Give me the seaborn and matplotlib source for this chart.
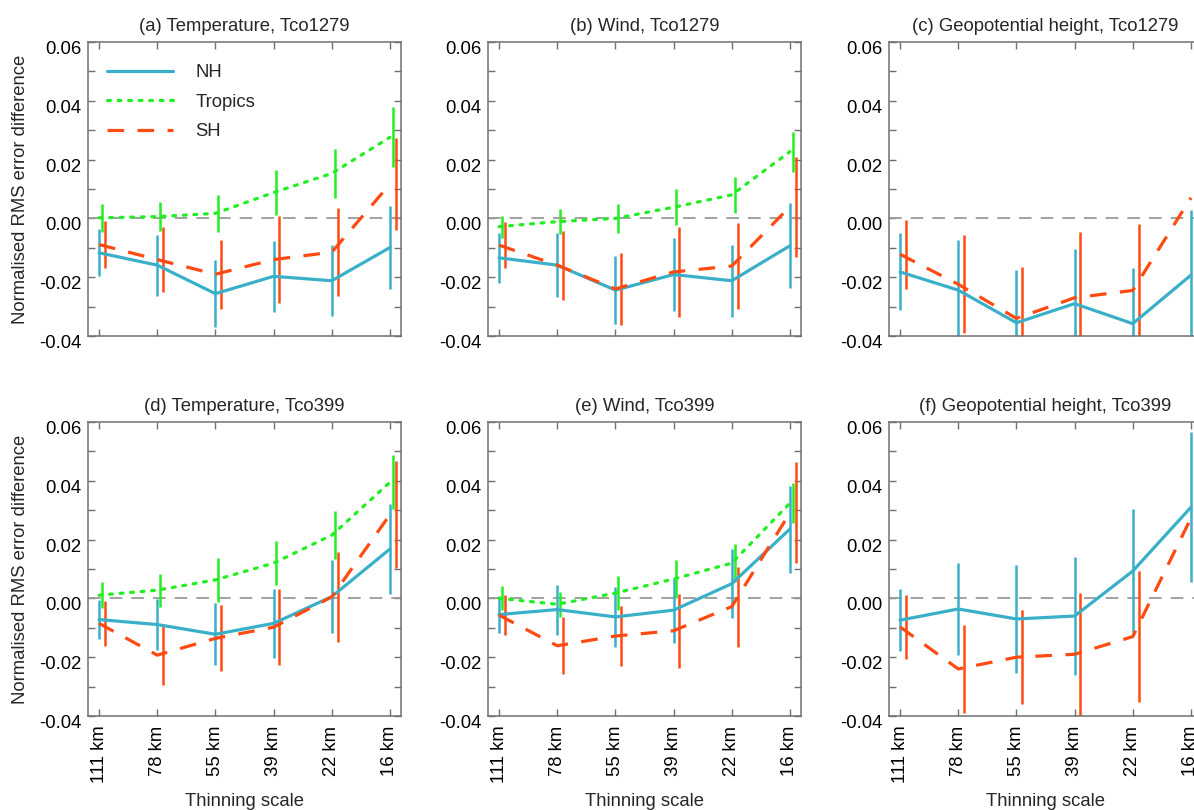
import numpy as np
import pandas as pd
import matplotlib
matplotlib.use("Agg")
import matplotlib.pyplot as plt
import seaborn as sns
from matplotlib.ticker import MultipleLocator, FormatStrFormatter
from matplotlib.transforms import ScaledTranslation

# ---------------- data ----------------
categories = ["111 km", "78 km", "55 km", "39 km", "22 km", "16 km"]
series_names = ["NH", "Tropics", "SH"]

titles = ["(a) Temperature, Tco1279", "(b) Wind, Tco1279", "(c) Geopotential height, Tco1279",
          "(d) Temperature, Tco399", "(e) Wind, Tco399", "(f) Geopotential height, Tco399"]

nh_a = [-0.0117, -0.0159, -0.0256, -0.0197, -0.0212, -0.0099]
nh_a_err = [0.0080, 0.0104, 0.0115, 0.0120, 0.0120, 0.0140]
tr_a = [0.0002, 0.0006, 0.0017, 0.0088, 0.0153, 0.0276]
tr_a_err = [0.0048, 0.0050, 0.0064, 0.0075, 0.0083, 0.0102]
sh_a = [-0.0089, -0.0140, -0.0190, -0.0140, -0.0115, 0.0117]
sh_a_err = [0.0080, 0.0110, 0.0118, 0.0148, 0.0150, 0.0157]

nh_b = [-0.0134, -0.0159, -0.0244, -0.0191, -0.0212, -0.0093]
nh_b_err = [0.0086, 0.0110, 0.0115, 0.0123, 0.0122, 0.0144]
tr_b = [-0.0028, -0.0011, 0.0000, 0.0038, 0.0080, 0.0227]
tr_b_err = [0.0037, 0.0043, 0.0049, 0.0062, 0.0060, 0.0068]
sh_b = [-0.0091, -0.0159, -0.0240, -0.0182, -0.0162, 0.0040]
sh_b_err = [0.0078, 0.0117, 0.0122, 0.0153, 0.0145, 0.0170]

nh_c = [-0.0182, -0.0244, -0.0355, -0.0290, -0.0358, -0.0193]
nh_c_err = [0.0131, 0.0170, 0.0180, 0.0185, 0.0190, 0.0220]
sh_c = [-0.0122, -0.0224, -0.0340, -0.0270, -0.0245, 0.0070]
sh_c_err = [0.0117, 0.0167, 0.0175, 0.0225, 0.0225, 0.0200]

nh_d = [-0.0072, -0.0089, -0.0122, -0.0085, 0.0006, 0.0168]
nh_d_err = [0.0067, 0.0086, 0.0106, 0.0118, 0.0123, 0.0152]
tr_d = [0.0011, 0.0028, 0.0063, 0.0120, 0.0215, 0.0395]
tr_d_err = [0.0045, 0.0056, 0.0074, 0.0076, 0.0081, 0.0092]
sh_d = [-0.0085, -0.0193, -0.0136, -0.0098, 0.0005, 0.0285]
sh_d_err = [0.0077, 0.0102, 0.0112, 0.0129, 0.0152, 0.0183]

nh_e = [-0.0055, -0.0038, -0.0063, -0.0040, 0.0050, 0.0236]
nh_e_err = [0.0062, 0.0085, 0.0102, 0.0110, 0.0118, 0.0148]
tr_e = [0.0000, -0.0020, 0.0018, 0.0066, 0.0120, 0.0324]
tr_e_err = [0.0041, 0.0042, 0.0058, 0.0063, 0.0065, 0.0068]
sh_e = [-0.0057, -0.0161, -0.0128, -0.0110, -0.0028, 0.0291]
sh_e_err = [0.0068, 0.0097, 0.0103, 0.0126, 0.0136, 0.0172]

nh_f = [-0.0074, -0.0036, -0.0070, -0.0060, 0.0093, 0.0310]
nh_f_err = [0.0106, 0.0157, 0.0185, 0.0201, 0.0211, 0.0255]
sh_f = [-0.0097, -0.0240, -0.0200, -0.0190, -0.0130, 0.0273]
sh_f_err = [0.0108, 0.0151, 0.0159, 0.0210, 0.0222, 0.0200]

panel_data = [
    (nh_a, nh_a_err, tr_a, tr_a_err, sh_a, sh_a_err),
    (nh_b, nh_b_err, tr_b, tr_b_err, sh_b, sh_b_err),
    (nh_c, nh_c_err, None, None, sh_c, sh_c_err),
    (nh_d, nh_d_err, tr_d, tr_d_err, sh_d, sh_d_err),
    (nh_e, nh_e_err, tr_e, tr_e_err, sh_e, sh_e_err),
    (nh_f, nh_f_err, None, None, sh_f, sh_f_err),
]

# ---------------- style ----------------
sns.set_theme(style="ticks")
plt.rcParams["font.family"] = ["Liberation Sans", "DejaVu Sans"]
plt.rcParams["axes.unicode_minus"] = False

C_NH = "#3AB0C8"
C_TR = "#22EE22"
C_SH = "#FF4A12"
SPINE = "#707070"
FS = 13.3

W, H = 1194, 810
fig = plt.figure(figsize=(W / 100, H / 100), dpi=100)

col_left = [88, 488, 889]
ax_w = 313
row_top = [42, 422]
ax_h = 294

offsets = {"NH": 0.0, "Tropics": 0.05, "SH": 0.10}
colors = {"NH": C_NH, "Tropics": C_TR, "SH": C_SH}

x_idx = np.arange(len(categories))

for i, (title, pdata) in enumerate(zip(titles, panel_data)):
    r, c = divmod(i, 3)
    l = col_left[c] / W
    b = 1 - (row_top[r] + ax_h) / H
    ax = fig.add_axes([l, b, ax_w / W, ax_h / H])

    ax.axhline(0, color="#9a9a9a", lw=1.3, dashes=(7, 5), zorder=1)

    nh, nh_err, tr, tr_err, sh, sh_err = pdata
    series = [("NH", nh, nh_err), ("Tropics", tr, tr_err), ("SH", sh, sh_err)]
    for name, vals, errs in series:
        if vals is None:
            continue
        df = pd.DataFrame({"x": x_idx, "y": vals, "err": errs})
        sns.lineplot(data=df, x="x", y="y", ax=ax, color=colors[name], lw=2.3,
                     label=name, legend=False, zorder=3)
        line = ax.get_lines()[-1]
        if name == "Tropics":
            line.set_dashes((0.9, 2.4))
            line.set_dash_capstyle("round")
        elif name == "SH":
            line.set_dashes((5.2, 4.2))
        ax.vlines(df["x"] + offsets[name], df["y"] - df["err"], df["y"] + df["err"],
                  color=colors[name], lw=1.8, zorder=2)

    ax.set_xlim(-0.19, 5.19)
    ax.set_ylim(-0.04, 0.06)
    ax.set_xticks(x_idx)
    ax.yaxis.set_major_locator(MultipleLocator(0.02))
    ax.yaxis.set_minor_locator(MultipleLocator(0.01))
    ax.yaxis.set_major_formatter(FormatStrFormatter("%.2f"))
    ax.tick_params(which="both", direction="in", length=5, width=1, color=SPINE,
                   top=True, right=True, labelsize=FS, labelcolor="black")
    ax.tick_params(axis="y", pad=5)
    for sp in ax.spines.values():
        sp.set_color(SPINE)
        sp.set_linewidth(1.1)

    for lab in ax.get_yticklabels():
        lab.set_transform(lab.get_transform() + ScaledTranslation(0, -4 / 72, fig.dpi_scale_trans))

    if r == 1:
        ax.set_xticklabels(categories, rotation=90, fontsize=FS)
        ax.tick_params(axis="x", pad=7)
        ax.set_xlabel("Thinning scale", fontsize=FS)
        ax.xaxis.set_label_coords(0.5, -0.262)
    else:
        ax.set_xticklabels([])
        ax.set_xlabel("")

    if c == 0:
        ax.set_ylabel("Normalised RMS error difference", fontsize=FS)
        ax.yaxis.set_label_coords(-0.19, 0.5)
    else:
        ax.set_ylabel("")

    ax.set_title(title, fontsize=FS, pad=8)

    if i == 0:
        ax.legend(loc="upper left", bbox_to_anchor=(0.06, 0.925), frameon=False,
                  fontsize=FS, handlelength=3.6, handletextpad=1.2,
                  labelspacing=0.68, borderaxespad=0, borderpad=0)

fig.savefig("out.png", dpi=100)
